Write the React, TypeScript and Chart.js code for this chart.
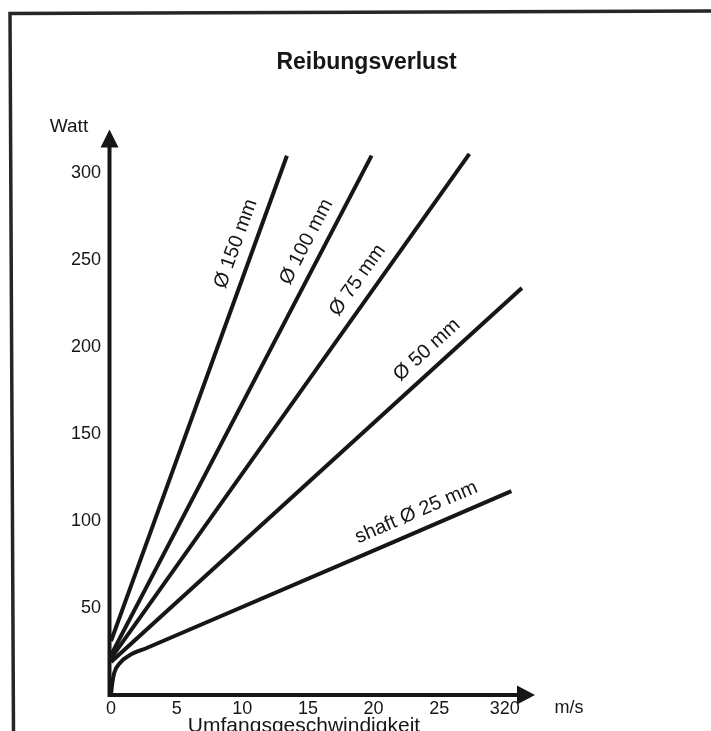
import React, { useEffect, useRef } from "react";
import { Chart, registerables } from "chart.js";

Chart.register(...registerables);

// ---- data ----
const TITLE = "Reibungsverlust";
const Y_UNIT = "Watt";
const X_UNIT = "m/s";
const X_TITLE = "Umfangsgeschwindigkeit";

const X_TICKS = [0, 5, 10, 15, 20, 25, 30];
const X_TICK_LABELS = ["0", "5", "10", "15", "20", "25", "320"];
const Y_TICKS = [50, 100, 150, 200, 250, 300];
const X_MAX = 32.3;
const Y_MAX = 325;

const SERIES_NAMES = ["Ø 150 mm", "Ø 100 mm", "Ø 75 mm", "Ø 50 mm", "shaft Ø 25 mm"];

const D150_X = [0, 13.4];
const D150_Y = [31, 310];
const D100_X = [0, 19.85];
const D100_Y = [23, 310];
const D75_X = [0, 27.3];
const D75_Y = [21, 311];
const D50_X = [0, 31.3];
const D50_Y = [19, 234];
const D25_X = [0, 0.08, 0.25, 0.7, 1.45, 2.72, 30.5];
const D25_Y = [0, 6, 12.8, 18.6, 23, 27, 117.2];

// speed (m/s) along each curve where its name is written
const LABEL_AT_X = [10.8, 16.1, 19.9, 25.0, 23.8];

const SERIES_X = [D150_X, D100_X, D75_X, D50_X, D25_X];
const SERIES_Y = [D150_Y, D100_Y, D75_Y, D50_Y, D25_Y];

const FONT = "'Liberation Sans', Arial, Helvetica, sans-serif";
const INK = "#161616";

const decorPlugin = {
  id: "decor",
  beforeDraw(chart: any) {
    const ctx = chart.ctx;
    ctx.save();
    ctx.strokeStyle = "#262626";
    ctx.lineWidth = 3.5;
    ctx.beginPath();
    ctx.moveTo(13.5, 731);
    ctx.lineTo(10, 13.5);
    ctx.lineTo(711, 11);
    ctx.stroke();
    ctx.restore();
  },
  afterDatasetsDraw(chart: any) {
    const { ctx, chartArea: a } = chart;
    ctx.save();
    ctx.fillStyle = INK;
    ctx.strokeStyle = INK;
    // axes
    const ax = a.left - 1.5;
    const ay = a.bottom;
    ctx.lineWidth = 4;
    ctx.beginPath();
    ctx.moveTo(ax, ay + 2);
    ctx.lineTo(ax, a.top + 16);
    ctx.moveTo(ax - 2, ay);
    ctx.lineTo(a.right - 16, ay);
    ctx.stroke();
    // arrows
    ctx.beginPath();
    ctx.moveTo(ax, a.top);
    ctx.lineTo(ax - 9, a.top + 18);
    ctx.lineTo(ax + 9, a.top + 18);
    ctx.closePath();
    ctx.fill();
    ctx.beginPath();
    ctx.moveTo(a.right, ay);
    ctx.lineTo(a.right - 18, ay - 9.5);
    ctx.lineTo(a.right - 18, ay + 9.5);
    ctx.closePath();
    ctx.fill();

    // unit labels
    ctx.textAlign = "center";
    ctx.textBaseline = "middle";
    ctx.font = `19px ${FONT}`;
    ctx.fillText(Y_UNIT, a.left - 42, a.top - 3);
    ctx.font = `18px ${FONT}`;
    ctx.fillText(X_UNIT, a.right + 34, ay + 13);
    ctx.font = `21px ${FONT}`;
    ctx.textBaseline = "top";
    ctx.fillText(X_TITLE, a.left + 193, ay + 21);

    // series labels
    ctx.font = `20px ${FONT}`;
    ctx.textBaseline = "middle";
    SERIES_NAMES.forEach((name, i) => {
      const xs = SERIES_X[i];
      const meta = chart.getDatasetMeta(i);
      const at = LABEL_AT_X[i];
      let k = 0;
      while (k < xs.length - 2 && xs[k + 1] < at) k++;
      const p0 = meta.data[k];
      const p1 = meta.data[k + 1];
      const t = (at - xs[k]) / (xs[k + 1] - xs[k]);
      const px = p0.x + t * (p1.x - p0.x);
      const py = p0.y + t * (p1.y - p0.y);
      const dx = p1.x - p0.x;
      const dy = p1.y - p0.y;
      const len = Math.hypot(dx, dy);
      const off = 18;
      const cx = px + (dy / len) * off;
      const cy = py + (-dx / len) * off;
      ctx.save();
      ctx.translate(cx, cy);
      ctx.rotate(Math.atan2(dy, dx));
      ctx.fillText(name, 0, 0);
      ctx.restore();
    });
    ctx.restore();
  },
};

export default function App() {
  const ref = useRef<HTMLCanvasElement | null>(null);

  useEffect(() => {
    if (!ref.current) return;
    const datasets = SERIES_NAMES.map((name, i) => ({
      label: name,
      data: SERIES_X[i].map((x, j) => ({ x, y: SERIES_Y[i][j] })),
      borderColor: INK,
      borderWidth: 4,
      pointRadius: 0,
      fill: false,
      tension: 0,
      cubicInterpolationMode: i === 4 ? ("monotone" as const) : ("default" as const),
      borderCapStyle: "butt" as const,
    }));
    const chart = new Chart(ref.current, {
      type: "line",
      data: { datasets },
      options: {
        responsive: false,
        animation: false,
        layout: { padding: { left: 22, right: 0, top: 0, bottom: 0 } },
        plugins: {
          legend: { display: false },
          tooltip: { enabled: false },
          title: {
            display: true,
            text: TITLE,
            color: INK,
            font: { family: FONT, size: 23, weight: "bold" },
            padding: { top: 49, bottom: 53 },
          },
        },
        scales: {
          x: {
            type: "linear",
            min: 0,
            max: X_MAX,
            grid: { display: false, drawTicks: false },
            border: { display: false },
            afterBuildTicks: (s: any) => {
              s.ticks = X_TICKS.map((v) => ({ value: v }));
            },
            afterFit: (s: any) => {
              s.height = 36;
            },
            ticks: {
              autoSkip: false,
              maxRotation: 0,
              padding: 3,
              color: INK,
              font: { family: FONT, size: 18 },
              callback: (v: any) => {
                const idx = X_TICKS.indexOf(Number(v));
                return idx >= 0 ? X_TICK_LABELS[idx] : "";
              },
            },
          },
          y: {
            type: "linear",
            min: 0,
            max: Y_MAX,
            grid: { display: false, drawTicks: false },
            border: { display: false },
            afterBuildTicks: (s: any) => {
              s.ticks = Y_TICKS.map((v) => ({ value: v }));
            },
            afterFit: (s: any) => {
              s.width = 89;
            },
            ticks: {
              padding: 10,
              color: INK,
              font: { family: FONT, size: 18 },
              callback: (v: any) => String(v),
            },
          },
          yRight: {
            type: "linear",
            position: "right",
            min: 0,
            max: Y_MAX,
            display: true,
            grid: { display: false, drawTicks: false },
            border: { display: false },
            ticks: { display: false },
            afterFit: (s: any) => {
              s.width = 176;
            },
          },
        },
      },
      plugins: [decorPlugin],
    });
    return () => chart.destroy();
  }, []);

  return (
    <div style={{ position: "fixed", left: 0, top: 0, width: 711, height: 731, background: "#fff" }}>
      <canvas ref={ref} width={711} height={731} style={{ display: "block" }} />
    </div>
  );
}
